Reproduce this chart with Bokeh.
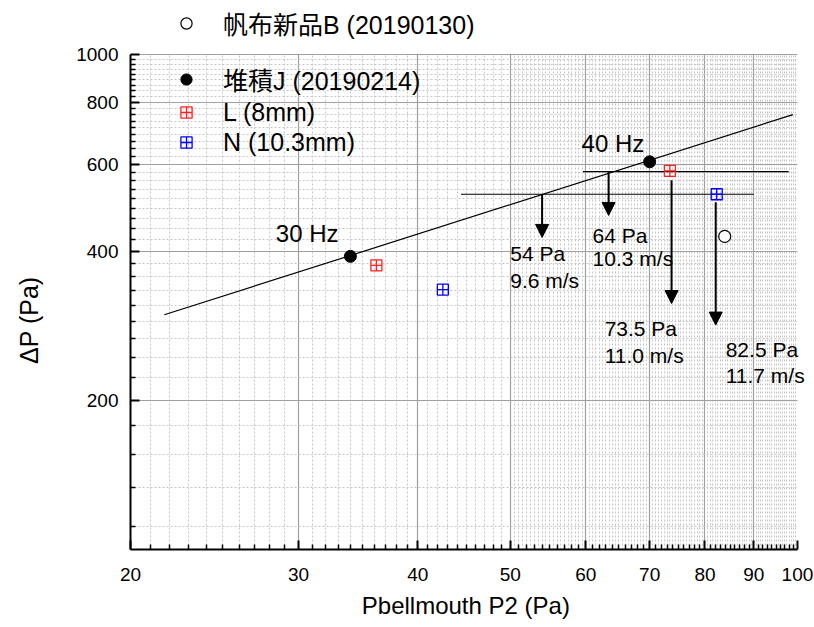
from bokeh.plotting import figure
from bokeh.models import (FixedTicker, Legend, LegendItem, Arrow, NormalHead,
                          LabelSet, ColumnDataSource, BasicTickFormatter)
from bokeh.core.properties import value
from bokeh.embed import file_html
from bokeh.resources import INLINE

# ---- data ----
j_x = [34.0, 70.0]          # 堆積J (20190214)
j_y = [391, 607]
l_x = [36.2, 73.5]          # L (8mm)
l_y = [375, 582]
n_x = [42.5, 82.3]          # N (10.3mm)
n_y = [335, 522]
b_x = [83.9]                # 帆布新品B (20190130)
b_y = [429]

fit_x = [21.7, 98.9]
fit_y = [298, 756]

h1_x = [44.4, 90.0]
h1_y = [522, 522]
h2_x = [59.6, 97.9]
h2_y = [580, 580]

arrow_x = [54.0, 63.4, 73.8, 82.1]
arrow_y0 = [522, 580, 557, 503]
arrow_y1 = [427, 473, 314, 284]

ann_text = ["54 Pa", "9.6 m/s", "64 Pa", "10.3 m/s", "73.5 Pa", "11.0 m/s", "82.5 Pa", "11.7 m/s"]
ann_x = [50.0, 50.0, 61.0, 61.0, 62.8, 62.8, 84.1, 84.1]
ann_y = [397, 349, 431, 388, 279, 247, 253, 225]

hz_text = ["30 Hz", "40 Hz"]
hz_x = [28.4, 59.4]
hz_y = [434, 662]

x_major = [20, 30, 40, 50, 60, 70, 80, 90, 100]
y_major = [200, 400, 600, 800, 1000]

FONT = "Liberation Sans"
X_RIGHT = 104.2   # frame extends right of 100 so that labels are not cut
Y_TOP = 1285.5    # frame extends above 1000 to hold the top legend entry

p = figure(width=814, height=623, x_axis_type="log", y_axis_type="log",
           x_range=(20, X_RIGHT), y_range=(100, Y_TOP),
           output_backend="svg", toolbar_location=None,
           min_border_left=130, min_border_right=0, min_border_top=0, min_border_bottom=74)
p.outline_line_color = None
p.background_fill_color = "white"

x_minor = [v for v in range(21, 100) if v % 10 != 0]
y_minor = [200 + 200.0 / 9 * k for k in range(-4, 37) if k % 9 != 0]

xax = p.xaxis[0]
yax = p.yaxis[0]
for ax in (xax, yax):
    ax.axis_line_width = 2
    ax.axis_line_color = "black"
    ax.major_tick_in = 9
    ax.major_tick_out = 0
    ax.minor_tick_in = 5
    ax.minor_tick_out = 0
    ax.major_tick_line_width = 2
    ax.major_tick_line_color = "black"
    ax.minor_tick_line_width = 1.5
    ax.minor_tick_line_color = "black"
    ax.major_label_text_font = FONT
    ax.major_label_text_font_size = "19px"
    ax.major_label_text_color = "black"
    ax.axis_label_text_font = FONT
    ax.axis_label_text_font_style = "normal"
    ax.axis_label_text_color = "black"
    ax.formatter = BasicTickFormatter()

xax.bounds = (20, 100)
yax.bounds = (100, 1000)
xax.ticker = FixedTicker(ticks=x_major, minor_ticks=x_minor)
yax.ticker = FixedTicker(ticks=y_major, minor_ticks=y_minor)
# trailing no-break spaces shift the titles to where the reference has them
xax.axis_label = "Pbellmouth P2 (Pa)" + "\u00a0" * 2
yax.axis_label = "ΔP (Pa)" + "\u00a0" * 13
xax.axis_label_text_font_size = "24px"
yax.axis_label_text_font_size = "25px"
xax.major_label_standoff = 18
xax.axis_label_standoff = 8
yax.major_label_standoff = 12
yax.axis_label_standoff = 30

# grids: solid at major values, dashed at minor values
x_dash = [v for v in x_minor] + [v + 0.5 for v in range(50, 100)]
p.xgrid.ticker = FixedTicker(ticks=[30, 40, 50, 60, 70, 80, 90], minor_ticks=x_dash)
p.ygrid.ticker = FixedTicker(ticks=y_major, minor_ticks=y_minor)
p.xgrid.cross_bounds = (100, 1000)
p.ygrid.cross_bounds = (20, 100)
for g in (p.xgrid[0], p.ygrid[0]):
    g.grid_line_color = "#a0a0a0"
    g.grid_line_width = 1.2
    g.minor_grid_line_color = "#c6c6c6"
    g.minor_grid_line_dash = "2 2"
    g.minor_grid_line_width = 1

# lines
p.line(fit_x, fit_y, line_color="black", line_width=1.2)
p.line(h1_x, h1_y, line_color="black", line_width=1.2)
p.line(h2_x, h2_y, line_color="black", line_width=1.2)

arrows = ColumnDataSource(dict(x0=arrow_x, y0=arrow_y0, x1=arrow_x, y1=arrow_y1))
p.add_layout(Arrow(source=arrows, x_start="x0", y_start="y0", x_end="x1", y_end="y1",
                   line_width=2, line_color="black",
                   end=NormalHead(size=13, fill_color="black", line_color="black")))

rb = p.scatter(b_x, b_y, marker="circle", size=12, fill_color="white", line_color="black", line_width=1.2)
rj = p.scatter(j_x, j_y, marker="circle", size=12, fill_color="black", line_color="black")
rl = p.scatter(l_x, l_y, marker="square_cross", size=11, fill_color=None, line_color="#ff2020", line_width=1.3)
rn = p.scatter(n_x, n_y, marker="square_cross", size=11, fill_color=None, line_color="#0000ff", line_width=1.3)

ann = ColumnDataSource(dict(x=ann_x, y=ann_y, t=ann_text))
p.add_layout(LabelSet(source=ann, x="x", y="y", text="t", text_font=value(FONT), text_font_size="21px",
                      text_baseline="middle", text_align="left", text_color="black"))
hz = ColumnDataSource(dict(x=hz_x, y=hz_y, t=hz_text))
p.add_layout(LabelSet(source=hz, x="x", y="y", text="t", text_font=value(FONT), text_font_size="24px",
                      text_baseline="middle", text_align="left", text_color="black"))

LFONT = "Liberation Sans, Noto Sans CJK JP"
common = dict(spacing=0, glyph_height=30, label_height=30, margin=0, padding=0,
              glyph_width=28, label_standoff=23,
              label_text_font=LFONT, label_text_font_size="25px", label_text_color="black",
              border_line_alpha=0, background_fill_alpha=0)

leg1 = Legend(items=[LegendItem(label="帆布新品B (20190130)", renderers=[rb])],
              location=(42, 508), **common)
leg2 = Legend(items=[LegendItem(label="堆積J (20190214)", renderers=[rj]),
                     LegendItem(label="L (8mm)", renderers=[rl]),
                     LegendItem(label="N (10.3mm)", renderers=[rn])],
              location=(42, 392), **common)
p.add_layout(leg1, "center")
p.add_layout(leg2, "center")

open("out.html", "w").write(file_html(p, INLINE))
